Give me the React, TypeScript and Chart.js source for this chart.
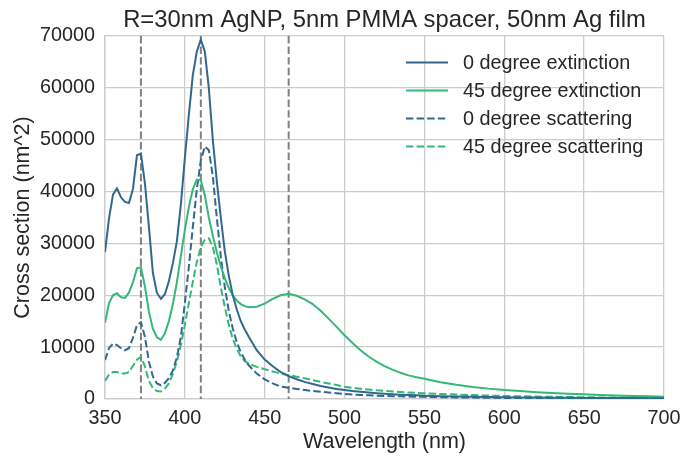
import React, { useEffect, useRef } from "react";
import { Chart, registerables } from "chart.js";

Chart.register(...registerables);

const wavelengths = [
  350, 352.5, 355, 357.5, 360, 362.5, 365, 367.5, 370, 372.5, 375, 377.5, 380, 382.5, 385, 387.5,
  390, 392.5, 395, 397.5, 400, 402.5, 405, 407.5, 410, 412.5, 415, 417.5, 420, 422.5, 425, 427.5,
  430, 432.5, 435, 437.5, 440, 445, 450, 455, 460, 465, 470, 475, 480, 485, 490, 495, 500, 505,
  510, 515, 520, 525, 530, 535, 540, 545, 550, 560, 570, 580, 590, 600, 610, 620, 630, 640, 650,
  660, 670, 680, 690, 700,
];

const ext0 = [
  28300, 34800, 39400, 40600, 38900, 38000, 37800, 40500, 47000, 47300, 41600, 33200, 24300, 20500, 19300, 20200,
  22700, 26200, 30400, 37500, 46500, 54800, 62500, 67000, 69300, 67000, 60000, 50000, 42000, 35000, 28500, 23800,
  20000, 17300, 15000, 13400, 12000, 9400, 7600, 6300, 5200, 4400, 3800, 3300, 2900, 2500, 2200, 1950, 1750, 1550,
  1400, 1250, 1130, 1020, 920, 840, 770, 700, 640, 550, 480, 420, 370, 330, 300, 270, 250, 230, 210,
  195, 180, 170, 160, 150,
];

const ext45 = [
  14700, 18500, 20000, 20400, 19600, 19500, 20500, 22500, 25200, 25400, 21700, 16800, 13500, 11900, 11400, 12700,
  15000, 18300, 22500, 27600, 32600, 37000, 40500, 42300, 42200, 39300, 35000, 31500, 28300, 25600, 23300, 21400,
  20000, 19000, 18300, 17900, 17700, 17800, 18400, 19300, 20000, 20300, 19900, 19200, 18300, 17000, 15500, 13900, 12300, 10800,
  9400, 8200, 7200, 6350, 5650, 5050, 4550, 4200, 3900, 3250, 2750, 2330, 2000, 1750, 1520, 1320, 1160, 1020, 900,
  780, 680, 600, 520, 450,
];

const sca0 = [
  7500, 9800, 10700, 10400, 9800, 9400, 9800, 11800, 14200, 14800, 12000, 7200, 4300, 3000, 2650, 3100,
  4000, 5500, 8000, 12000, 18500, 25500, 33200, 40500, 46000, 48700, 48000, 43000, 35000, 27500, 21600, 17000,
  13600, 11000, 9000, 7600, 6500, 4900, 3800, 3000, 2400, 2150, 1950, 1750, 1550, 1400, 1250, 1100, 950, 850,
  780, 710, 650, 600, 550, 510, 470, 440, 410, 350, 310, 270, 240, 210, 190, 170, 150, 140, 130,
  120, 110, 100, 95, 90,
];

const sca45 = [
  3500, 4700, 5200, 5200, 4950, 4900, 5200, 6400, 7600, 8150, 6300, 3500, 2100, 1550, 1450, 2000,
  3000, 4900, 7200, 10400, 14300, 18500, 22600, 26400, 29300, 30700, 31000, 29300, 26000, 21500, 17800, 14300,
  11600, 9700, 8200, 7300, 6800, 6200, 5750, 5300, 4900, 4600, 4300, 4000, 3650, 3300, 3000, 2700, 2350, 2150,
  1980, 1820, 1680, 1560, 1450, 1350, 1260, 1180, 1100, 960, 850, 750, 660, 590, 520, 470, 420, 380, 340,
  310, 280, 250, 230, 210,
];

const seriesLabels = [
  "0 degree extinction",
  "45 degree extinction",
  "0 degree scattering",
  "45 degree scattering",
];

const markerWavelengths = [372.5, 410, 465];

const xTicks = [350, 400, 450, 500, 550, 600, 650, 700];
const yTicks = [0, 10000, 20000, 30000, 40000, 50000, 60000, 70000];

const titleText = "R=30nm AgNP, 5nm PMMA spacer, 50nm Ag film";
const xTitle = "Wavelength (nm)";
const yTitle = "Cross section (nm^2)";

const BLUE = "#31688e";
const GREEN = "#35b779";
const FONT = "'Liberation Sans', Arial, sans-serif";
const TEXT = "#262626";
const GRID = "#cccccc";
const DASH = [7.4, 3.2];

const App: React.FC = () => {
  const canvasRef = useRef<HTMLCanvasElement | null>(null);

  useEffect(() => {
    const canvas = canvasRef.current;
    if (!canvas) return;

    const toPts = (arr: number[]) => wavelengths.map((w, i) => ({ x: w, y: arr[i] }));

    const vlinePlugin = {
      id: "vlines",
      beforeDatasetsDraw(chart: any) {
        const { ctx, chartArea, scales } = chart;
        ctx.save();
        ctx.strokeStyle = "#808080";
        ctx.lineWidth = 2;
        ctx.setLineDash(DASH);
        markerWavelengths.forEach((w) => {
          const x = scales.x.getPixelForValue(w);
          ctx.beginPath();
          ctx.moveTo(x, chartArea.top);
          ctx.lineTo(x, chartArea.bottom);
          ctx.stroke();
        });
        ctx.restore();
      },
    };

    const titleAndLegendPlugin = {
      id: "customTitleLegend",
      afterDraw(chart: any) {
        const { ctx, chartArea } = chart;
        ctx.save();
        ctx.fillStyle = TEXT;
        ctx.font = `23.8px ${FONT}`;
        ctx.textAlign = "center";
        ctx.textBaseline = "alphabetic";
        ctx.fillText(titleText, (chartArea.left + chartArea.right) / 2, chartArea.top - 9.5);

        ctx.font = `19.8px ${FONT}`;
        ctx.textBaseline = "middle";
        ctx.textAlign = "left";
        chart.data.datasets.forEach((ds: any, i: number) => {
          const y = chartArea.top + 26.5 + i * 28;
          const x0 = chartArea.right - 258;
          ctx.strokeStyle = ds.borderColor;
          ctx.lineWidth = 2;
          ctx.setLineDash(ds.borderDash || []);
          ctx.beginPath();
          ctx.moveTo(x0, y);
          ctx.lineTo(x0 + 42, y);
          ctx.stroke();
          ctx.setLineDash([]);
          ctx.fillStyle = TEXT;
          ctx.fillText(ds.label, chartArea.right - 201, y + 1);
        });
        ctx.restore();
      },
    };

    const chart = new Chart(canvas, {
      type: "line",
      data: {
        datasets: [
          { label: seriesLabels[0], data: toPts(ext0), borderColor: BLUE, borderWidth: 2 },
          { label: seriesLabels[1], data: toPts(ext45), borderColor: GREEN, borderWidth: 2 },
          { label: seriesLabels[2], data: toPts(sca0), borderColor: BLUE, borderWidth: 2, borderDash: DASH },
          { label: seriesLabels[3], data: toPts(sca45), borderColor: GREEN, borderWidth: 2, borderDash: DASH },
        ],
      },
      options: {
        animation: false,
        responsive: false,
        maintainAspectRatio: false,
        events: [],
        elements: {
          point: { radius: 0 },
          line: { tension: 0, fill: false },
        },
        layout: { padding: { top: 36, left: 0, right: 19, bottom: 0 } },
        plugins: {
          legend: { display: false },
          tooltip: { enabled: false },
          title: { display: false },
        },
        scales: {
          x: {
            type: "linear",
            min: 350,
            max: 700,
            afterBuildTicks(scale: any) {
              scale.ticks = xTicks.map((v) => ({ value: v }));
            },
            afterFit(scale: any) {
              scale.height = 57;
              scale.paddingLeft = 0;
              scale.paddingRight = 0;
            },
            ticks: {
              color: TEXT,
              font: { family: FONT, size: 19.8 },
              padding: 8,
              maxRotation: 0,
              autoSkip: false,
              callback: (v: any) => String(v),
            },
            grid: { color: GRID, lineWidth: 1.3, drawTicks: false },
            border: { color: GRID, width: 1.3 },
            title: {
              display: true,
              text: xTitle,
              color: TEXT,
              font: { family: FONT, size: 21.5 },
              padding: { top: 0, bottom: 1 },
            },
          },
          y: {
            type: "linear",
            min: 0,
            max: 70000,
            afterBuildTicks(scale: any) {
              scale.ticks = yTicks.map((v) => ({ value: v }));
            },
            afterFit(scale: any) {
              scale.width = 105;
              scale.paddingTop = 0;
              scale.paddingBottom = 0;
            },
            ticks: {
              color: TEXT,
              font: { family: FONT, size: 19.8 },
              padding: 10,
              autoSkip: false,
              callback: (v: any) => String(v),
            },
            grid: { color: GRID, lineWidth: 1.3, drawTicks: false },
            border: { color: GRID, width: 1.3 },
            title: {
              display: true,
              text: yTitle,
              color: TEXT,
              font: { family: FONT, size: 21.5 },
              padding: { top: 10, bottom: 0 },
            },
          },
        },
      },
      plugins: [vlinePlugin, titleAndLegendPlugin],
    } as any);

    return () => {
      chart.destroy();
    };
  }, []);

  return (
    <div style={{ position: "fixed", left: 0, top: 0, width: 683, height: 456, background: "#ffffff" }}>
      <canvas ref={canvasRef} width={683} height={456} style={{ display: "block", width: 683, height: 456 }} />
    </div>
  );
};

export default App;
